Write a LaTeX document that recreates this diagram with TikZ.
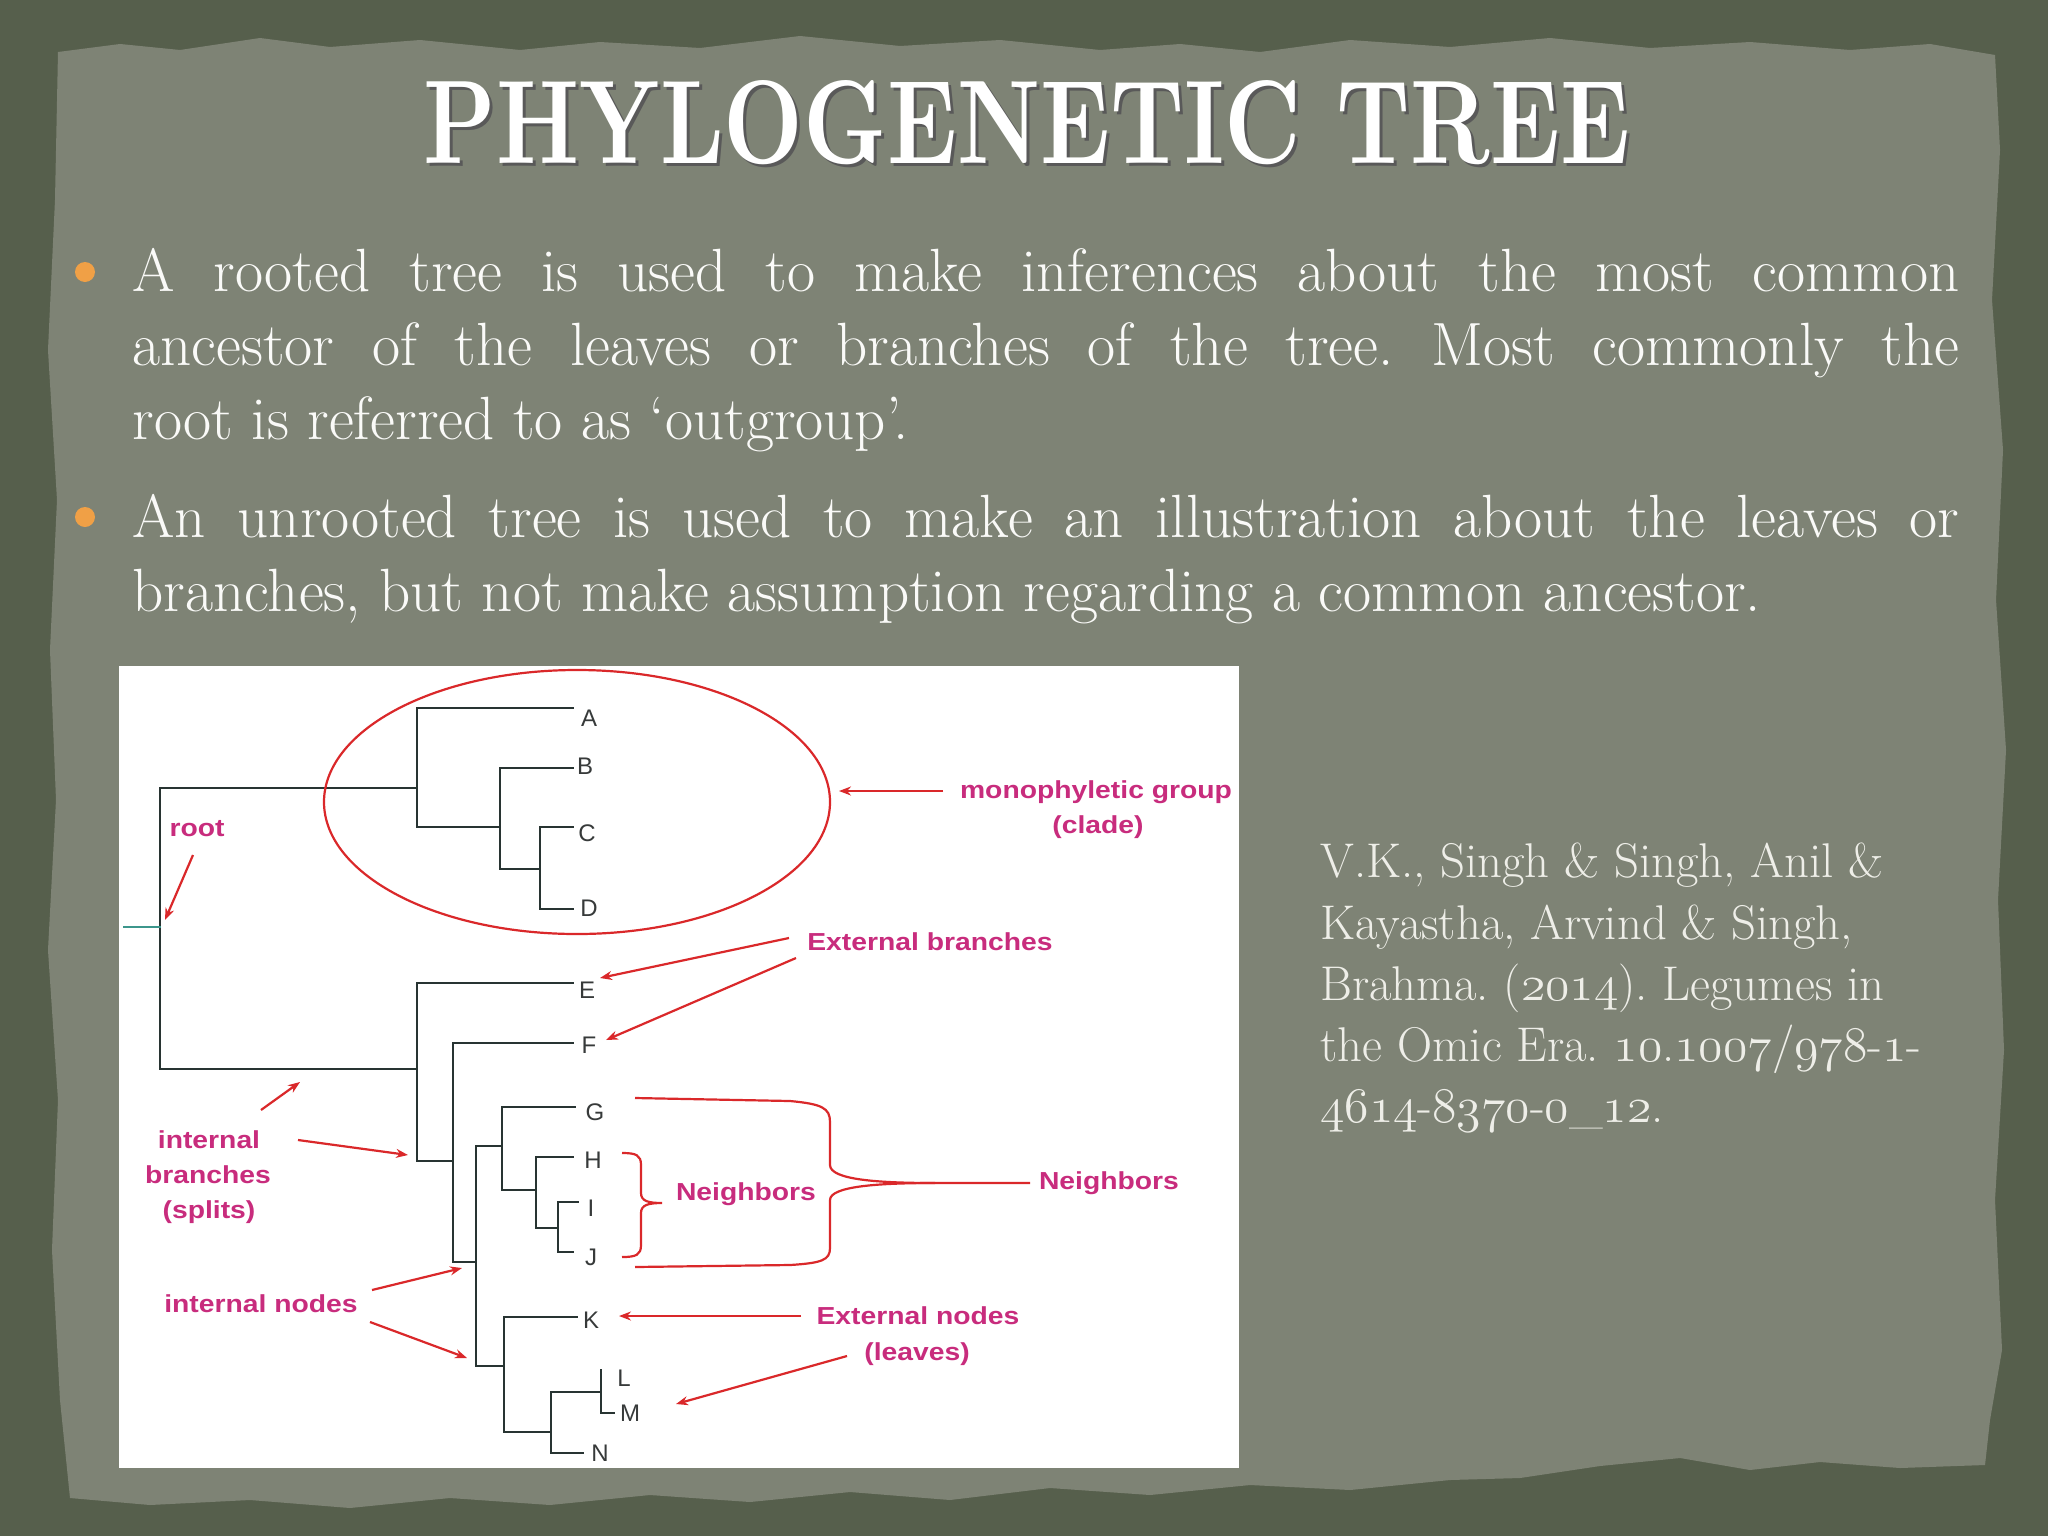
\documentclass[tikz,border=0pt]{standalone}
\usepackage{fontspec}
\usepackage{graphicx}
\usetikzlibrary{arrows.meta}
\newfontfamily\sansf{Liberation Sans}
\frenchspacing
\definecolor{outerc}{RGB}{86,95,76}
\definecolor{panelc}{RGB}{126,131,117}
\definecolor{redc}{RGB}{218,40,42}
\definecolor{magc}{RGB}{200,44,125}
\definecolor{treec}{RGB}{40,52,50}
\definecolor{tealc}{RGB}{60,150,140}
\definecolor{leafc}{RGB}{55,58,58}
\definecolor{bodyc}{RGB}{250,250,248}
\definecolor{citec}{RGB}{238,238,232}
\definecolor{bulc}{RGB}{240,160,70}
\newlength\Lfive
\newlength\Lcit
\newcommand\osf[1]{{\fontencoding{OML}\fontfamily{lmm}\fontseries{m}\fontshape{it}\selectfont #1}}
\newcommand\bodyfeat{\addfontfeatures{FakeBold=0.6}}
\AtBeginDocument{%
\settowidth\Lfive{\fontsize{10pt}{12pt}\selectfont\bodyfeat branches, but not make assumption regarding a common ancestor.}%
\pgfmathsetmacro\bsz{10*889.5/\Lfive}%
\global\let\bsz\bsz
\settowidth\Lcit{\fontsize{10pt}{12pt}\selectfont Brahma. (\osf{2014}). Legumes in}%
\pgfmathsetmacro\csz{10*303.5/\Lcit}%
\global\let\csz\csz
}
\newcommand\lab[1]{\scalebox{1.15}[1]{#1}}
\tikzset{
  tl/.style={draw=treec,line width=1.4pt,line cap=rect},
  arr/.style={draw=redc,line width=1.1pt,-{Stealth[length=6pt,width=4.5pt]}},
  rline/.style={draw=redc,line width=1.1pt},
  leaf/.style={inner sep=0pt,text=leafc,font=\sansf\fontsize{12}{14}\selectfont},
  lbl/.style={inner sep=0pt,anchor=base,text=magc,font=\sansf\bfseries\fontsize{12.3}{14}\selectfont},
  bline/.style={inner sep=0pt,anchor=base west,text=bodyc},
  cline/.style={inner sep=0pt,anchor=base west,text=citec},
}
\begin{document}
\begin{tikzpicture}[x=0.5pt,y=-0.5pt]
\useasboundingbox (0,0) rectangle (2048,1536);
% background
\fill[outerc] (0,0) rectangle (2048,1536);
\fill[panelc] (58,52) -- (120,44) -- (180,50) -- (260,38) -- (330,47) -- (420,40) -- (520,50) -- (600,42) -- (700,48) -- (800,36) -- (900,46) -- (1000,40) -- (1100,50) -- (1180,44) -- (1260,52) -- (1350,40) -- (1450,47) -- (1550,38) -- (1650,48) -- (1750,42) -- (1850,50) -- (1930,44) -- (1995,55)
 -- (2000,150) -- (1992,300) -- (2003,450) -- (1996,600) -- (2006,750) -- (1998,900) -- (2004,1050) -- (1995,1200) -- (2002,1350) -- (1990,1420) -- (1985,1465)
 -- (1900,1468) -- (1820,1462) -- (1750,1470) -- (1680,1458) -- (1600,1466) -- (1520,1478) -- (1450,1480) -- (1350,1490) -- (1250,1485) -- (1150,1495) -- (1050,1488) -- (950,1500) -- (850,1492) -- (750,1502) -- (650,1495) -- (550,1505) -- (450,1498) -- (350,1508) -- (250,1500) -- (150,1505) -- (70,1498)
 -- (60,1400) -- (52,1250) -- (58,1100) -- (48,950) -- (56,800) -- (50,650) -- (57,500) -- (48,350) -- (55,200) -- cycle;
% title
\node[inner sep=0pt,anchor=base,text=black!65] (titlesh) at (1030,166) {\resizebox{603pt}{41.5pt}{\bfseries PHYLOGENETIC TREE}};
\node[inner sep=0pt,anchor=base,text=white] (title) at (1027,163) {\resizebox{603pt}{41.5pt}{\bfseries PHYLOGENETIC TREE}};
% bullets
\fill[bulc] (85,272) circle (10);
\fill[bulc] (85,517) circle (10);
\node[bline] (b1) at (132,291) {\fontsize{\bsz pt}{\bsz pt}\selectfont\bodyfeat\makebox[913.5pt][s]{A rooted tree is used to make inferences about the most common}};
\node[bline] (b2) at (132,365) {\fontsize{\bsz pt}{\bsz pt}\selectfont\bodyfeat\makebox[913.5pt][s]{ancestor of the leaves or branches of the tree. Most commonly the}};
\node[bline] (b3) at (132,439) {\fontsize{\bsz pt}{\bsz pt}\selectfont\bodyfeat root is referred to as ‘outgroup’.};
\node[bline] (b4) at (132,537) {\fontsize{\bsz pt}{\bsz pt}\selectfont\bodyfeat\makebox[913.5pt][s]{An unrooted tree is used to make an illustration about the leaves or}};
\node[bline] (b5) at (132,611) {\fontsize{\bsz pt}{\bsz pt}\selectfont\bodyfeat branches, but not make assumption regarding a common ancestor.};
% citation
\node[cline] (c1) at (1320,877) {\fontsize{\csz pt}{\csz pt}\selectfont V.K., Singh \& Singh, Anil \&};
\node[cline] (c2) at (1320,939) {\fontsize{\csz pt}{\csz pt}\selectfont Kayastha, Arvind \& Singh,};
\node[cline] (c3) at (1320,1000) {\fontsize{\csz pt}{\csz pt}\selectfont Brahma. (\osf{2014}). Legumes in};
\node[cline] (c4) at (1320,1061) {\fontsize{\csz pt}{\csz pt}\selectfont the Omic Era. \osf{10}.\osf{1007}/\osf{978}-\osf{1}-};
\node[cline] (c5) at (1320,1122) {\fontsize{\csz pt}{\csz pt}\selectfont \osf{4614}-\osf{8370}-\osf{0}\_\osf{12}.};
% figure panel
\fill[white] (119,666) rectangle (1239,1468);
% tree coordinates
\coordinate (r0) at (124,927);
\coordinate (rt) at (160,927);
\coordinate (u) at (417,788);
\coordinate (bcd) at (500,827);
\coordinate (cd) at (540,869);
\coordinate (lo) at (417,1069);
\coordinate (f) at (453,1161);
\coordinate (gn) at (476,1262);
\coordinate (gj) at (502,1146);
\coordinate (hj) at (536,1190);
\coordinate (ij) at (558,1228);
\coordinate (kn) at (504,1366);
\coordinate (lmn) at (551,1432);
\coordinate (lm) at (601,1392);
\coordinate (tA) at (573,708);
\coordinate (tB) at (573,768);
\coordinate (tC) at (573,827);
\coordinate (tD) at (573,909);
\coordinate (tE) at (573,983);
\coordinate (tF) at (573,1043);
\coordinate (tG) at (575,1107);
\coordinate (tH) at (573,1157);
\coordinate (tI) at (578,1202);
\coordinate (tJ) at (573,1252);
\coordinate (tK) at (577,1317);
\coordinate (tL) at (601,1370);
\coordinate (tM) at (614,1413);
\coordinate (tN) at (583,1453);
% leaf labels
\node[leaf] (A) at (589,718) {A};
\node[leaf] (B) at (585,766) {B};
\node[leaf] (C) at (587,833) {C};
\node[leaf] (D) at (589,908) {D};
\node[leaf] (E) at (587,990) {E};
\node[leaf] (F) at (589,1045) {F};
\node[leaf] (G) at (595,1112) {G};
\node[leaf] (H) at (593,1160) {H};
\node[leaf] (I) at (591,1208) {I};
\node[leaf] (J) at (591,1257) {J};
\node[leaf] (K) at (591,1320) {K};
\node[leaf] (L) at (624,1378) {L};
\node[leaf] (M) at (630,1413) {M};
\node[leaf] (N) at (600,1453) {N};
% tree edges
\draw[tl] (tA) -| (u);
\draw[tl] (bcd) -| (u);
\draw[tl] (tB) -| (bcd);
\draw[tl] (cd) -| (bcd);
\draw[tl] (tC) -| (cd);
\draw[tl] (tD) -| (cd);
\draw[tl] (u) -| (rt);
\draw[tl] (lo) -| (rt);
\draw[tl] (tE) -| (lo);
\draw[tl] (f) -| (lo);
\draw[tl] (tF) -| (f);
\draw[tl] (gn) -| (f);
\draw[tl] (gj) -| (gn);
\draw[tl] (kn) -| (gn);
\draw[tl] (tG) -| (gj);
\draw[tl] (hj) -| (gj);
\draw[tl] (tH) -| (hj);
\draw[tl] (ij) -| (hj);
\draw[tl] (tI) -| (ij);
\draw[tl] (tJ) -| (ij);
\draw[tl] (tK) -| (kn);
\draw[tl] (lmn) -| (kn);
\draw[tl] (lm) -| (lmn);
\draw[tl] (tN) -| (lmn);
\draw[tl] (tL) -- (lm);
\draw[tl] (tM) -| (lm);
\draw[tl,draw=tealc] (r0) -- (rt);
% annotation labels
\node[lbl] (lroot) at (197,836) {\lab{root}};
\node[lbl] (lmono) at (1096,798) {\lab{monophyletic group}};
\node[lbl] (lclade) at (1098,833) {\lab{(clade)}};
\node[lbl] (lextb) at (930,950) {\lab{External branches}};
\node[lbl] (lint1) at (209,1148) {\lab{internal}};
\node[lbl] (lint2) at (208,1183) {\lab{branches}};
\node[lbl] (lint3) at (209,1218) {\lab{(splits)}};
\node[lbl] (lintn) at (261,1312) {\lab{internal nodes}};
\node[lbl] (lnb1) at (746,1200) {\lab{Neighbors}};
\node[lbl] (lnb2) at (1109,1189) {\lab{Neighbors}};
\node[lbl] (lextn) at (918,1324) {\lab{External nodes}};
\node[lbl] (lleav) at (917,1360) {\lab{(leaves)}};
% clade ellipse
\draw[rline] (577,802) ellipse [x radius=253, y radius=132];
% arrow coordinates
\coordinate (aroot0) at (193,855);   \coordinate (aroot1) at (165,920);
\coordinate (amono0) at (943,791);   \coordinate (amono1) at (839,791);
\coordinate (aeb10) at (789,938);    \coordinate (aeb11) at (600,978);
\coordinate (aeb20) at (796,958);    \coordinate (aeb21) at (606,1040);
\coordinate (aib10) at (261,1110);   \coordinate (aib11) at (300,1082);
\coordinate (aib20) at (298,1140);   \coordinate (aib21) at (408,1155);
\coordinate (ain10) at (372,1290);   \coordinate (ain11) at (462,1268);
\coordinate (ain20) at (370,1322);   \coordinate (ain21) at (467,1358);
\coordinate (aenK0) at (801,1316);   \coordinate (aenK1) at (619,1316);
\coordinate (aenM0) at (847,1356);   \coordinate (aenM1) at (676,1404);
\draw[arr] (aroot0) -- (aroot1);
\draw[arr] (amono0) -- (amono1);
\draw[arr] (aeb10) -- (aeb11);
\draw[arr] (aeb20) -- (aeb21);
\draw[arr] (aib10) -- (aib11);
\draw[arr] (aib20) -- (aib21);
\draw[arr] (ain10) -- (ain11);
\draw[arr] (ain20) -- (ain21);
\draw[arr] (aenK0) -- (aenK1);
\draw[arr] (aenM0) -- (aenM1);
% small brace
\draw[rline] (622,1153) .. controls (636,1153) and (641,1155) .. (641,1165) -- (641,1193) .. controls (641,1201) and (648,1203) .. (662,1203) .. controls (648,1203) and (641,1205) .. (641,1213) -- (641,1245) .. controls (641,1255) and (636,1257) .. (622,1257);
% big bracket
\coordinate (bbtip) at (935,1183);
\coordinate (bbend) at (1030,1183);
\draw[rline] (635,1098) -- (790,1101) .. controls (822,1104) and (830,1108) .. (830,1122) -- (830,1165) .. controls (830,1180) and (880,1183) .. (bbtip) -- (bbend);
\draw[rline] (bbtip) .. controls (880,1183) and (830,1186) .. (830,1200) -- (830,1248) .. controls (830,1260) and (822,1263) .. (790,1265) -- (635,1267);
\end{tikzpicture}
\end{document}
